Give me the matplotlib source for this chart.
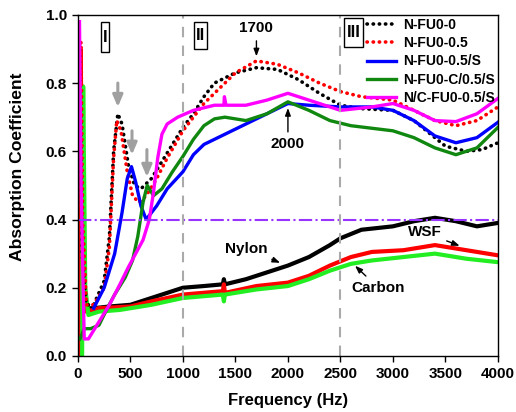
import matplotlib
matplotlib.use("Agg")
import matplotlib.pyplot as plt
from matplotlib.patches import Rectangle
import numpy as np

plt.rcParams['font.family'] = ['Liberation Sans', 'DejaVu Sans']
plt.rcParams['font.weight'] = 'bold'

# Образцы
fu00_f = [20, 40, 80, 150, 250, 300, 340, 380, 420, 480, 540, 600, 700, 800, 900, 1000, 1100, 1200, 1300,
          1400, 1500, 1700, 1900, 2100, 2300, 2500, 2700, 3000, 3200, 3400, 3500, 3700, 3850, 4000]
fu00_a = [0.9, 0.3, 0.15, 0.15, 0.22, 0.35, 0.6, 0.71, 0.68, 0.56, 0.5, 0.49, 0.52, 0.57, 0.62, 0.67, 0.71,
          0.76, 0.80, 0.815, 0.83, 0.845, 0.84, 0.81, 0.77, 0.735, 0.725, 0.72, 0.69, 0.64, 0.615, 0.60, 0.605, 0.625]

fu05_f = [15, 30, 45, 80, 150, 250, 300, 340, 370, 410, 470, 520, 580, 650, 750, 850, 1000, 1100, 1200, 1300,
          1400, 1500, 1700, 1900, 2100, 2300, 2500, 2700, 3000, 3200, 3400, 3600, 3800, 4000]
fu05_a = [0.9, 0.92, 0.4, 0.15, 0.15, 0.2, 0.32, 0.58, 0.69, 0.66, 0.54, 0.47, 0.45, 0.47, 0.52, 0.58, 0.66,
          0.70, 0.74, 0.77, 0.80, 0.83, 0.865, 0.855, 0.83, 0.80, 0.775, 0.76, 0.75, 0.72, 0.69, 0.675, 0.69, 0.73]

fu05s_f = [150, 250, 350, 420, 470, 510, 550, 600, 650, 750, 850, 1000, 1100, 1200, 1400, 1600, 1800, 2000,
           2200, 2500, 2800, 3000, 3200, 3400, 3600, 3800, 4000]
fu05s_a = [0.14, 0.2, 0.3, 0.42, 0.52, 0.555, 0.51, 0.44, 0.40, 0.44, 0.49, 0.54, 0.59, 0.62, 0.65, 0.68, 0.71,
           0.74, 0.735, 0.73, 0.73, 0.72, 0.69, 0.645, 0.625, 0.64, 0.685]

fuc_f = [20, 60, 120, 200, 280, 350, 450, 520, 570, 620, 660, 720, 800, 900, 1000, 1100, 1200, 1300, 1400,
         1600, 1800, 2000, 2200, 2400, 2600, 3000, 3200, 3400, 3600, 3800, 4000]
fuc_a = [0.05, 0.08, 0.08, 0.09, 0.14, 0.18, 0.23, 0.28, 0.35, 0.45, 0.50, 0.47, 0.49, 0.54, 0.585, 0.635,
         0.675, 0.695, 0.70, 0.69, 0.71, 0.745, 0.72, 0.69, 0.675, 0.66, 0.64, 0.61, 0.59, 0.61, 0.67]

ncfu_f = [15, 30, 60, 100, 200, 300, 400, 480, 550, 620, 680, 720, 760, 800, 850, 950, 1100, 1300, 1390, 1395,
          1410, 1600, 1800, 2000, 2200, 2500, 2800, 3000, 3200, 3400, 3600, 3800, 4000]
ncfu_a = [0.98, 0.5, 0.05, 0.05, 0.1, 0.15, 0.21, 0.26, 0.3, 0.34, 0.40, 0.48, 0.58, 0.65, 0.68, 0.70, 0.72,
          0.735, 0.735, 0.76, 0.735, 0.735, 0.75, 0.77, 0.75, 0.72, 0.73, 0.74, 0.72, 0.69, 0.687, 0.71, 0.755]

# Волокна
nylon_f = [5, 20, 40, 70, 150, 300, 500, 700, 1000, 1200, 1380, 1390, 1400, 1600, 1800, 2000, 2200, 2400,
           2500, 2700, 3000, 3200, 3400, 3600, 3800, 4000]
nylon_a = [0.0, 0.8, 0.3, 0.14, 0.14, 0.145, 0.15, 0.17, 0.20, 0.205, 0.21, 0.225, 0.21, 0.225, 0.245, 0.265,
           0.29, 0.325, 0.345, 0.37, 0.38, 0.395, 0.405, 0.395, 0.38, 0.39]

wsf_f = [10, 25, 50, 80, 200, 500, 700, 1000, 1380, 1390, 1400, 1700, 2000, 2200, 2400, 2600, 2800, 3100,
         3400, 3700, 4000]
wsf_a = [0.0, 0.9, 0.3, 0.13, 0.14, 0.145, 0.16, 0.18, 0.19, 0.21, 0.185, 0.205, 0.215, 0.235, 0.265, 0.29,
         0.305, 0.31, 0.325, 0.31, 0.295]

carbon_f = [40, 50, 70, 100, 200, 400, 700, 1000, 1380, 1390, 1400, 1700, 2000, 2200, 2400, 2600, 2800,
            3100, 3400, 3700, 4000]
carbon_a = [0.0, 0.79, 0.2, 0.12, 0.13, 0.135, 0.15, 0.17, 0.18, 0.16, 0.18, 0.195, 0.205, 0.225, 0.25, 0.27,
            0.28, 0.29, 0.30, 0.285, 0.275]

fig = plt.figure(figsize=(5.16, 4.12), dpi=100)
ax = fig.add_axes([0.151, 0.136, 0.814, 0.828])

dots = (0, (0.1, 1.6))

ax.plot(nylon_f, nylon_a, color='black', lw=3)
ax.plot(wsf_f, wsf_a, color='#ff0000', lw=3)
ax.plot(carbon_f, carbon_a, color='#22ee22', lw=3)

l1, = ax.plot(fu00_f, fu00_a, color='black', lw=2.6, linestyle=dots, dash_capstyle='round', label='N-FU0-0')
l2, = ax.plot(fu05_f, fu05_a, color='#ff0000', lw=2.6, linestyle=dots, dash_capstyle='round', label='N-FU0-0.5')
l3, = ax.plot(fu05s_f, fu05s_a, color='#0000ff', lw=2.4, label='N-FU0-0.5/S')
l4, = ax.plot(fuc_f, fuc_a, color='#108810', lw=2.4, label='N-FU0-C/0.5/S')
l5, = ax.plot(ncfu_f, ncfu_a, color='#ff00ff', lw=2.4, label='N/C-FU0-0.5/S')

ax.axhline(0.4, color='#9933ff', lw=1.5, linestyle='-.')
for xv in [1000, 2500]:
    ax.axvline(xv, color='#aaaaaa', lw=1.5, linestyle=(0, (5, 4)))

ax.set_xlim(0, 4000)
ax.set_ylim(0, 1.0)
ax.set_xticks(np.arange(0, 4001, 500))
ax.set_yticks(np.arange(0, 1.01, 0.2))
ax.set_yticklabels(['0.0', '0.2', '0.4', '0.6', '0.8', '1.0'])
ax.tick_params(labelsize=11, width=1, length=4.5, direction='out')
for s in ax.spines.values():
    s.set_linewidth(1)
ax.set_xlabel('Frequency (Hz)', fontsize=12, fontweight='bold')
ax.set_ylabel('Absorption Coefficient', fontsize=12.6, fontweight='bold')
ax.xaxis.set_label_coords(0.5, -0.108)
ax.yaxis.set_label_coords(-0.126, 0.554)

# рамки с римскими цифрами
for x0, x1, y0, y1, txt in [(219, 295, 0.89, 0.98, 'I'), (1105, 1229, 0.90, 0.98, 'II'),
                            (2533, 2714, 0.906, 0.99, 'III')]:
    ax.add_patch(Rectangle((x0, y0), x1 - x0, y1 - y0, fill=True, fc='white', ec='black', lw=1, zorder=5))
    ax.text((x0 + x1) / 2, (y0 + y1) / 2, txt, fontsize=12, fontweight='bold', ha='center', va='center',
            zorder=6)

gray = dict(arrowstyle='-|>,head_width=0.3,head_length=0.7', color='#a0a0a0', lw=2.2, shrinkA=0, shrinkB=0)
ax.annotate('', xy=(380, 0.73), xytext=(380, 0.80), arrowprops=gray)
ax.annotate('', xy=(515, 0.59), xytext=(515, 0.66), arrowprops=gray)
ax.annotate('', xy=(657, 0.525), xytext=(657, 0.605), arrowprops=gray)

blk = dict(arrowstyle='-|>,head_width=0.15,head_length=0.4', color='black', lw=1)
ax.annotate('1700', xy=(1700, 0.87), xytext=(1700, 0.94), fontsize=11, fontweight='bold',
            ha='center', va='bottom', arrowprops=blk)
ax.annotate('2000', xy=(2000, 0.735), xytext=(2000, 0.62), fontsize=11, fontweight='bold',
            ha='center', va='center', arrowprops=blk)
ax.annotate('Nylon', xy=(1950, 0.27), xytext=(1600, 0.315), fontsize=11, fontweight='bold',
            ha='center', va='center', arrowprops=blk)
ax.annotate('WSF', xy=(3660, 0.32), xytext=(3300, 0.362), fontsize=11, fontweight='bold',
            ha='center', va='center', arrowprops=blk)
ax.annotate('Carbon', xy=(2620, 0.27), xytext=(2860, 0.2), fontsize=11, fontweight='bold',
            ha='center', va='center', arrowprops=blk)

ax.legend(handles=[l1, l2, l3, l4, l5], loc='upper right', bbox_to_anchor=(1.012, 1.015), frameon=False,
          handlelength=2.1, handletextpad=0.5, labelspacing=0.3, borderaxespad=0.2,
          prop={'weight': 'bold', 'size': 10})

fig.savefig('out.png', dpi=100)
